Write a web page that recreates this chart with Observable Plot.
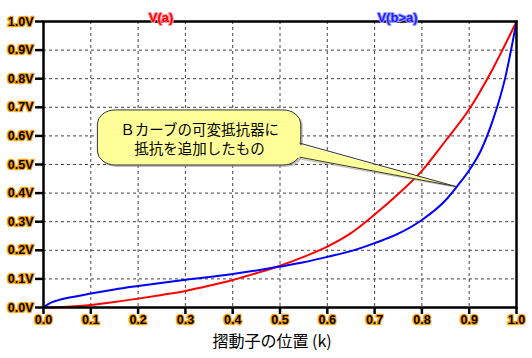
<!DOCTYPE html>
<html>
<head>
<meta charset="utf-8">
<script src="https://cdn.jsdelivr.net/npm/d3@7"></script>
<script src="https://cdn.jsdelivr.net/npm/@observablehq/plot@0.6"></script>
<style>
  html, body { margin: 0; padding: 0; background: #fff; }
  svg text { font-synthesis: weight; }
</style>
</head>
<body>
<div id="chart"></div>
<script>
// Series: V(a)
const kRed = [0, 0.05, 0.1, 0.15, 0.2, 0.25, 0.3, 0.35, 0.4, 0.45, 0.5, 0.55, 0.6, 0.65, 0.7, 0.75, 0.8, 0.85, 0.9, 0.95, 1.0];
const vRed = [0, 0.003, 0.009, 0.019, 0.031, 0.044, 0.058, 0.076, 0.096, 0.12, 0.146, 0.177, 0.213, 0.26, 0.325, 0.397, 0.478, 0.583, 0.693, 0.835, 1.0];
// Series: V(b>a)
const kBlue = [0, 0.01, 0.03, 0.05, 0.1, 0.15, 0.2, 0.3, 0.4, 0.5, 0.55, 0.6, 0.65, 0.7, 0.75, 0.8, 0.85, 0.875, 0.9, 0.925, 0.95, 0.975, 1.0];
const vBlue = [0, 0.012, 0.025, 0.033, 0.049, 0.063, 0.075, 0.097, 0.117, 0.143, 0.158, 0.177, 0.197, 0.225, 0.258, 0.306, 0.375, 0.425, 0.48, 0.55, 0.655, 0.795, 1.0];

const seriesNames = ["V(a)", "V(b>a)"];
const tickValues = [0, 0.1, 0.2, 0.3, 0.4, 0.5, 0.6, 0.7, 0.8, 0.9, 1.0];
const xTickLabels = ["0.0", "0.1", "0.2", "0.3", "0.4", "0.5", "0.6", "0.7", "0.8", "0.9", "1.0"];
const yTickLabels = ["0.0V", "0.1V", "0.2V", "0.3V", "0.4V", "0.5V", "0.6V", "0.7V", "0.8V", "0.9V", "1.0V"];
const gridValues = [0.1, 0.2, 0.3, 0.4, 0.5, 0.6, 0.7, 0.8, 0.9];
const xLabel = "摺動子の位置 (k)";
const calloutText = "Ｂカーブの可変抵抗器に\n抵抗を追加したもの";
// callout placement (data units)
const calloutBox = {x1: 0.115, x2: 0.545, y1: 0.4965, y2: 0.689};
const calloutTip = {x: 0.872, y: 0.423};
const calloutBase = {x: 0.54, yTop: 0.5745, yBottom: 0.5255};

const red = kRed.map((k, i) => ({k, v: vRed[i]}));
const blue = kBlue.map((k, i) => ({k, v: vBlue[i]}));
const xTicks = tickValues.map((t, i) => ({t, label: xTickLabels[i]}));
const yTicks = tickValues.map((t, i) => ({t, label: yTickLabels[i]}));

const pointerFill = [
  {k: calloutBase.x - 0.01, v: calloutBase.yTop},
  {k: calloutTip.x, v: calloutTip.y},
  {k: calloutBase.x - 0.01, v: calloutBase.yBottom}
];
const pointerStroke = [
  {k: calloutBase.x + 0.002, v: calloutBase.yTop},
  {k: calloutTip.x, v: calloutTip.y},
  {k: calloutBase.x + 0.002, v: calloutBase.yBottom}
];

const yellow = "#ffff99";
const halo = "#ffa000";
const W = 532, H = 358, ML = 43, MR = 16, MT = 21, MB = 51;
const boldFont = "'Liberation Sans', 'Arial', 'DejaVu Sans', sans-serif";

const chart = Plot.plot({
  width: W,
  height: H,
  marginLeft: ML,
  marginRight: MR,
  marginTop: MT,
  marginBottom: MB,
  style: {fontFamily: boldFont, fontSize: "12px", background: "#fff", overflow: "visible"},
  x: {domain: [0, 1], axis: null},
  y: {domain: [0, 1], axis: null},
  marks: [
    Plot.gridX(gridValues, {stroke: "#444", strokeOpacity: 1, strokeWidth: 1, strokeDasharray: "3,3"}),
    Plot.gridY(gridValues, {stroke: "#444", strokeOpacity: 1, strokeWidth: 1, strokeDasharray: "3,3"}),
    Plot.line(red, {x: "k", y: "v", stroke: "#ff0000", strokeWidth: 2, curve: "monotone-x"}),
    Plot.line(blue, {x: "k", y: "v", stroke: "#0000ff", strokeWidth: 2, curve: "monotone-x"}),
    // callout shadow
    Plot.rect([calloutBox], {x1: "x1", x2: "x2", y1: "y1", y2: "y2", rx: 18, ry: 14, fill: "#999", fillOpacity: 0.6, dx: 2, dy: 2}),
    Plot.line(pointerFill, {x: "k", y: "v", fill: "#888", fillOpacity: 0.5, stroke: "none", curve: "linear-closed", dx: 1, dy: 1.5}),
    // callout box
    Plot.rect([calloutBox], {x1: "x1", x2: "x2", y1: "y1", y2: "y2", rx: 18, ry: 14, fill: yellow, stroke: "#333", strokeWidth: 1}),
    Plot.line(pointerFill, {x: "k", y: "v", fill: yellow, stroke: "none", curve: "linear-closed"}),
    Plot.line(pointerStroke, {x: "k", y: "v", stroke: "#333", strokeWidth: 1, curve: "linear"}),
    Plot.text([calloutText], {
      x: (calloutBox.x1 + calloutBox.x2) / 2,
      y: (calloutBox.y1 + calloutBox.y2) / 2,
      text: d => d,
      fontFamily: "'Noto Sans CJK JP', sans-serif", fontWeight: "normal",
      fontSize: 14.5, lineHeight: 1.31, fill: "#000"
    }),
    Plot.frame({stroke: "#000", strokeWidth: 2.5}),
    // tick marks
    Plot.ruleX(xTicks, {x: "t", stroke: "#000", strokeWidth: 2.5, insetTop: H - MT - MB, insetBottom: -7}),
    Plot.ruleY(yTicks, {y: "t", stroke: "#000", strokeWidth: 2.5, insetLeft: -8, insetRight: W - ML - MR}),
    // tick labels
    Plot.text(xTicks, {x: "t", text: "label", frameAnchor: "bottom", dy: 16,
      fill: "#000", stroke: halo, strokeWidth: 2.6, strokeOpacity: 1, paintOrder: "stroke",
      fontFamily: boldFont, fontWeight: 700, fontSize: 12.5}),
    Plot.text(yTicks, {y: "t", text: "label", frameAnchor: "left", dx: -10, textAnchor: "end",
      fill: "#000", stroke: halo, strokeWidth: 2.6, strokeOpacity: 1, paintOrder: "stroke",
      fontFamily: boldFont, fontWeight: 700, fontSize: 12.5}),
    // series labels
    Plot.text([seriesNames[0]], {text: d => d, frameAnchor: "top", dx: -119, dy: -9,
      fill: "#ff0000", stroke: "#ff9aa8", strokeWidth: 2, paintOrder: "stroke",
      fontFamily: boldFont, fontWeight: 700, fontSize: 13}),
    Plot.text([seriesNames[1]], {text: d => d, frameAnchor: "top", dx: 117.5, dy: -9,
      fill: "#2020ff", stroke: "#a0a0ff", strokeWidth: 2, paintOrder: "stroke",
      fontFamily: boldFont, fontWeight: 700, fontSize: 13}),
    Plot.text([xLabel], {text: d => d, frameAnchor: "bottom", dx: -8, dy: 39,
      fontFamily: "'Noto Sans CJK JP', sans-serif", fontWeight: "normal", fontSize: 16, fill: "#000"})
  ]
});

document.getElementById("chart").appendChild(chart);
</script>
</body>
</html>
